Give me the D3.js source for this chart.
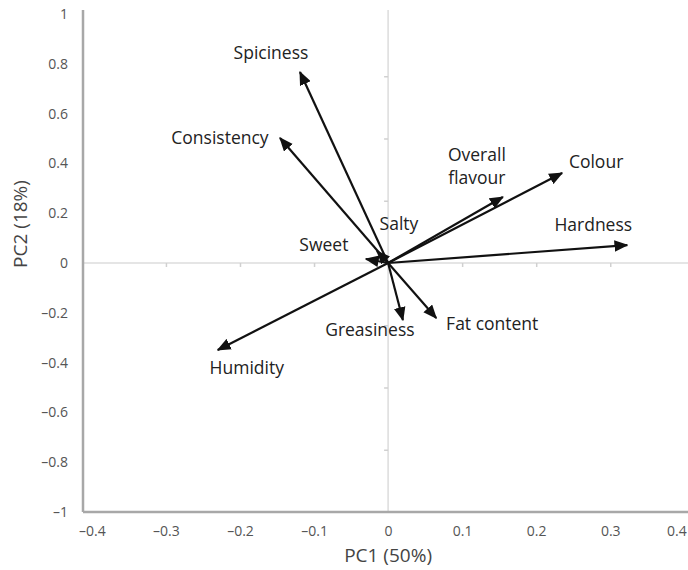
<!DOCTYPE html>
<html>
    <head>
        <script src="https://cdn.jsdelivr.net/npm/d3@7"></script>
        <style>
            body { margin: 0; background: #fff; }
            text { font-family: "Open Sans", "Noto Sans", sans-serif; }
        </style>
    </head>
    <body>
        <svg id="chart" width=688 height=570></svg>
        <script>
            // Loadings
            var variables = ["Spiciness", "Consistency", "Sweet", "Salty", "Overall flavour", "Colour", "Hardness", "Greasiness", "Fat content", "Humidity"];
            var pc1 = [-0.119, -0.146, -0.030, -0.015, 0.155, 0.235, 0.323, 0.020, 0.065, -0.230];
            var pc2 = [0.767, 0.502, 0.016, 0.048, 0.265, 0.361, 0.072, -0.229, -0.221, -0.349];
            var xTicks = [-0.4, -0.3, -0.2, -0.1, 0, 0.1, 0.2, 0.3, 0.4];
            var yTicks = [-1, -0.8, -0.6, -0.4, -0.2, 0, 0.2, 0.4, 0.6, 0.8, 1];

            // label offsets from arrow tip (pixels)
            var labelOffset = {
                "Spiciness": [-29, -18], "Consistency": [-60, 1], "Sweet": [-42, -13], "Salty": [22, -26],
                "Overall flavour": [-26, -41], "Colour": [34, -10], "Hardness": [-34, -19],
                "Greasiness": [-33, 11], "Fat content": [56, 7], "Humidity": [29, 19]
            };

            var svg = d3.select("svg#chart");
            var x = d3.scaleLinear().domain([-0.412, 0.405]).range([83, 688]);
            var y = d3.scaleLinear().domain([-1, 1.016]).range([512, 10]);

            var fmt = function(d) { return d === 0 ? "0" : (d < 0 ? "\u2013" : "") + d3.format("")(Math.abs(d)); };

            // crosshair through origin
            svg.append("line").attr("x1", x(-0.412)).attr("x2", 688).attr("y1", y(0)).attr("y2", y(0))
                .attr("stroke", "#dcdcdc").attr("stroke-width", 1.5);
            svg.append("line").attr("x1", x(0)).attr("x2", x(0)).attr("y1", 10).attr("y2", 512)
                .attr("stroke", "#dcdcdc").attr("stroke-width", 1.5);

            var hTicks = svg.append("g").attr("transform", "translate(0," + y(0) + ")")
                .call(d3.axisBottom(x).tickValues([-0.3, -0.2, -0.1, 0.1, 0.2, 0.3]).tickSize(4).tickFormat(""));
            var vTicks = svg.append("g").attr("transform", "translate(" + x(0) + ",0)")
                .call(d3.axisLeft(y).tickValues([-0.75, -0.5, -0.25, 0.25, 0.5, 0.75]).tickSize(4).tickFormat(""));
            [hTicks, vTicks].forEach(function(g) {
                g.select(".domain").remove();
                g.selectAll("line").attr("stroke", "#d0d0d0").attr("stroke-width", 1.5);
            });

            // frame axes
            var xAxis = svg.append("g").attr("transform", "translate(0,512)")
                .call(d3.axisBottom(x).tickValues(xTicks).tickSize(0).tickPadding(14).tickFormat(fmt));
            var yAxis = svg.append("g").attr("transform", "translate(83,0)")
                .call(d3.axisLeft(y).tickValues(yTicks).tickSize(0).tickPadding(15).tickFormat(fmt));
            [xAxis, yAxis].forEach(function(g) {
                g.select(".domain").attr("stroke", "#a8a8a8").attr("stroke-width", 2.5);
                g.selectAll("text").attr("fill", "#555").style("font-size", "14px")
                    .style("font-family", "'Open Sans', sans-serif");
            });
            xAxis.select(".domain").attr("d", "M83,0H688");
            yAxis.select(".domain").attr("d", "M0,10V512");
            // last label sits against the right edge
            xAxis.selectAll(".tick text").filter(function(d) { return d === 0.4; })
                .attr("text-anchor", "end").attr("dx", 2);

            svg.append("text").attr("x", x(0)).attr("y", 562).attr("text-anchor", "middle")
                .attr("fill", "#444").style("font-size", "19px").text("PC1 (50%)");
            svg.append("text").attr("transform", "translate(27,224) rotate(-90)").attr("text-anchor", "middle")
                .attr("fill", "#444").style("font-size", "19px").text("PC2 (18%)");

            // arrowhead
            svg.append("defs").append("marker").attr("id", "head")
                .attr("viewBox", "0 0 12 10").attr("refX", 11).attr("refY", 5)
                .attr("markerUnits", "userSpaceOnUse").attr("markerWidth", 14).attr("markerHeight", 12)
                .attr("orient", "auto")
                .append("path").attr("d", "M0,0L12,5L0,10Z").attr("fill", "#111");

            var data = variables.map(function(v, i) { return {name: v, a: pc1[i], b: pc2[i]}; });

            svg.append("g").selectAll("line").data(data).enter().append("line")
                .attr("x1", x(0)).attr("y1", y(0))
                .attr("x2", function(d) { return x(d.a); })
                .attr("y2", function(d) { return y(d.b); })
                .attr("stroke", "#111").attr("stroke-width", 2.2)
                .attr("marker-end", "url(#head)");

            var labels = svg.append("g").selectAll("text").data(data).enter().append("text")
                .attr("x", function(d) { return x(d.a) + labelOffset[d.name][0]; })
                .attr("y", function(d) { return y(d.b) + labelOffset[d.name][1]; })
                .attr("text-anchor", "middle").attr("dominant-baseline", "middle")
                .attr("fill", "#222").style("font-size", "17.5px");
            labels.each(function(d) {
                var words = d.name === "Overall flavour" ? ["Overall", "flavour"] : [d.name];
                var t = d3.select(this);
                words.forEach(function(w, k) {
                    t.append("tspan").attr("x", t.attr("x")).attr("dy", k === 0 ? 0 : 23).text(w);
                });
            });
        </script>
    </body>
</html>
